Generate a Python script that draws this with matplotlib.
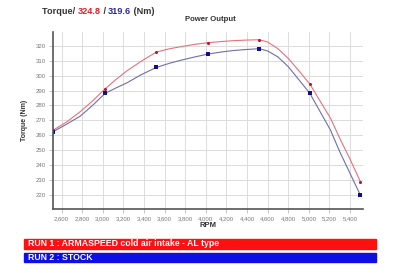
import matplotlib
matplotlib.use("Agg")
import matplotlib.pyplot as plt
from matplotlib.patches import Rectangle

plt.rcParams['font.family'] = ['Liberation Sans', 'DejaVu Sans']

# marker points (rpm, Nm)
rpm_pts = [2520, 3020, 3520, 4020, 4520, 5010, 5500]
run1_pts = [263.5, 291.0, 315.8, 322.0, 324.0, 294.3, 229.0]
run2_pts = [262.5, 288.0, 305.5, 314.4, 318.0, 288.1, 220.0]

# line traces
rpm_line = [2520, 2650, 2780, 2900, 3020, 3130, 3230, 3370, 3520, 3650, 3770, 3900, 4020,
            4150, 4270, 4400, 4520, 4600, 4700, 4800, 4900, 5010, 5100, 5210, 5300, 5400, 5500]
run1_line = [263.5, 269.0, 275.8, 283.0, 291.0, 297.5, 303.0, 309.5, 315.8, 318.0, 319.5, 321.0, 322.0,
             322.8, 323.4, 323.8, 324.0, 322.5, 318.0, 311.5, 303.5, 294.3, 284.0, 271.5, 258.0, 244.0, 229.0]
run2_line = [262.5, 267.5, 272.8, 280.0, 288.0, 291.8, 295.0, 300.5, 305.5, 308.3, 310.5, 312.6, 314.4,
             315.8, 316.8, 317.5, 318.0, 316.5, 312.5, 306.0, 297.5, 288.1, 277.0, 263.5, 249.0, 234.5, 220.0]

xticks = list(range(2600, 5401, 200))
yticks = list(range(220, 321, 10))

run1_label = "RUN 1 : ARMASPEED cold air intake - AL type"
run2_label = "RUN 2 : STOCK"

fig = plt.figure(figsize=(4, 2.73), dpi=100)
ax = fig.add_axes([0.1325, 0.2344, 0.775, 0.6484])

ax.plot(rpm_line, run1_line, color="#e8707c", lw=0.8)
ax.plot(rpm_line, run2_line, color="#6e6eb0", lw=0.8)
ax.plot(rpm_pts, run1_pts, 'o', color="#c0102a", ms=2.2, mew=0)
ax.plot(rpm_pts, run2_pts, 's', color="#10108f", ms=3.2, mew=0)

ax.set_xlim(2516, 5526)
ax.set_ylim(210.6, 329.2)
ax.set_xticks(xticks)
ax.set_xticklabels(["{:,}".format(v) for v in xticks])
ax.set_yticks(yticks)
ax.grid(True, color="#dcdcdc", lw=0.7)
ax.set_axisbelow(True)
for s in ["top", "right"]:
    ax.spines[s].set_visible(False)
for s in ["left", "bottom"]:
    ax.spines[s].set_color("#555555")
    ax.spines[s].set_linewidth(1.2)
ax.tick_params(labelsize=4.3, labelcolor="#777777", color="#bbbbbb", length=3, width=0.6, pad=2)
ax.set_ylabel("Torque (Nm)", fontsize=5, fontweight="bold", color="#333333", labelpad=6)
ax.set_xlabel("RPM", fontsize=5.5, fontweight="bold", color="#333333", labelpad=1)

fig.text(0.525, 0.927, "Power Output", fontsize=5.6, fontweight="bold", color="#333333", ha="center", va="center")

# header built from pieces
pieces = [("Torque/ ", "#333333"), ("324.8", "#e0202a"), (" / ", "#333333"),
          ("319.6", "#2a2a9a"), (" (Nm)", "#333333")]
fig.canvas.draw()
r = fig.canvas.get_renderer()
x = 42
for txt, col in pieces:
    t = fig.text(x / 400, 1 - 11 / 273, txt, fontsize=6.6, fontweight="bold", color=col, va="center")
    bb = t.get_window_extent(renderer=r)
    x += bb.width

# legend bars
for y0, col, lab in [(239, "#ff1010", run1_label), (252.5, "#0d10e0", run2_label)]:
    fig.patches.append(Rectangle((24 / 400, 1 - (y0 + 9.5) / 273), 352 / 400, 9.5 / 273,
                                 transform=fig.transFigure, color=col, zorder=0))
    fig.text(28 / 400, 1 - (y0 + 4.9) / 273, lab, fontsize=6.3, fontweight="bold", color="white", va="center")

fig.savefig("out.png", dpi=100)
